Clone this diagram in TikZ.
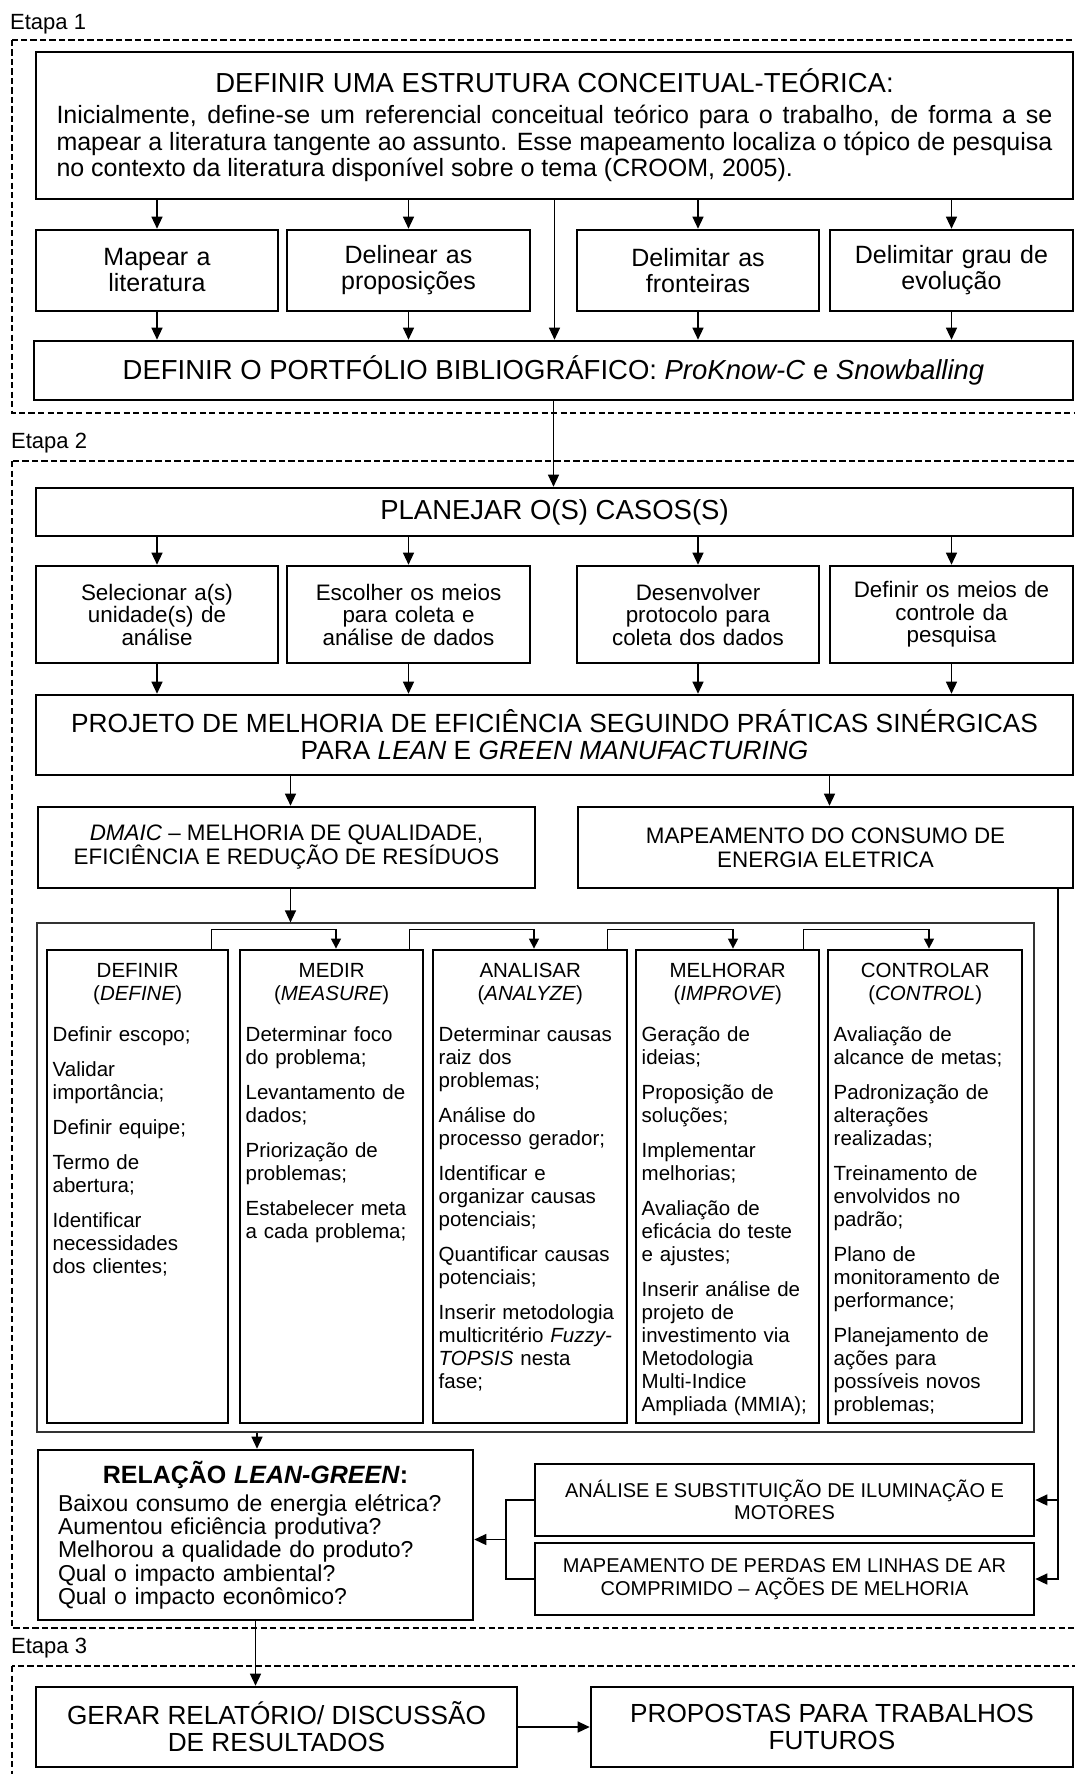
\documentclass[tikz,border=0pt]{standalone}
\usepackage{fontspec}
\setmainfont{Liberation Sans}
\usetikzlibrary{arrows.meta,calc}
\newcommand{\fs}[2]{\fontsize{#1}{#2}\selectfont}
\hyphenpenalty=10000
\exhyphenpenalty=10000

\begin{document}
\begin{tikzpicture}[x=1pt,y=-1pt,
  box/.style={draw=black, line width=2.6pt, rectangle, inner sep=0pt, align=center},
  col/.style={draw=black, line width=2.8pt, rectangle, inner sep=0pt},
  coltext/.style={anchor=base west, inner sep=0pt, align=left, font=\fs{20.5}{23}},
  conn/.style={draw=black, line width=1.3pt},
  arr/.style={conn, -{Triangle[length=12pt,width=11pt]}},
  sarr/.style={conn, -{Triangle[length=10pt,width=10pt]}},
  stage/.style={draw=black, line width=2pt, dash pattern=on 6.3pt off 3.2pt},
  lab/.style={anchor=west, inner sep=0pt, font=\fs{22}{24}},
]
\useasboundingbox (0,0) rectangle (1075,1774);
\clip (0,0) rectangle (1075,1774);

% ---------- stage frames and labels ----------
\draw[stage] (12,40) rectangle (1100,413);
\draw[stage] (12,461) rectangle (1100,1628);
\draw[stage] (12,1666) rectangle (1100,1800);
\node[lab] (e1) at (10,24) {Etapa 1};
\node[lab] (e2) at (11,443) {Etapa 2};
\node[lab] (e3) at (11,1648) {Etapa 3};

% ---------- Etapa 1 ----------
\node[box, minimum width=1037pt, minimum height=147pt, text width=996pt,
      align=justify, font=\fs{25}{26.7}] (T) at (554.5,125.5)
  {{\centering\fs{27.5}{30}DEFINIR UMA ESTRUTURA CONCEITUAL-TEÓRICA:\par}\vspace{3.8pt}%
   Inicialmente, define-se um referencial conceitual teórico para o trabalho, de forma a se\linebreak
   mapear a literatura tangente ao assunto. Esse mapeamento localiza o tópico de pesquisa\linebreak
   no contexto da literatura disponível sobre o tema (CROOM, 2005).};

\tikzset{rowone/.style={box, minimum height=81pt, text width=230pt, font=\fs{25}{26}}}
\node[rowone, minimum width=242pt] (r1a) at (157,270.5) {Mapear a\\literatura};
\node[rowone, minimum width=243pt] (r1b) at (408.5,270.5) {Delinear as\\proposições};
\node[rowone, minimum width=242pt] (r1c) at (698,270.5) {Delimitar as\\fronteiras};
\node[rowone, minimum width=243pt] (r1d) at (951.5,270.5) {Delimitar grau de\\evolução};

\node[box, minimum width=1039pt, minimum height=59pt, font=\fs{27.5}{30}] (P) at (553.5,370.5)
  {DEFINIR O PORTFÓLIO BIBLIOGRÁFICO: \textit{ProKnow-C} e \textit{Snowballing}};

\foreach \n in {r1a,r1b,r1c,r1d}{
  \draw[arr] (T.south -| \n.north) -- (\n.north);
  \draw[arr] (\n.south) -- (\n.south |- P.north);
}
\draw[arr] (T.south) -- (T.south |- P.north);

% ---------- Etapa 2 ----------
\node[box, minimum width=1037pt, minimum height=48pt, font=\fs{27.5}{30}] (PL) at (554.5,512)
  {PLANEJAR O(S) CASOS(S)};
\draw[arr] (P.south) -- (P.south |- PL.north);

\tikzset{rowtwo/.style={box, minimum height=97pt, text width=230pt, font=\fs{22.4}{22.5}}}
\node[rowtwo, minimum width=242pt] (r2a) at (157,614.5) {Selecionar a(s)\\unidade(s) de\\análise};
\node[rowtwo, minimum width=243pt] (r2b) at (408.5,614.5) {Escolher os meios\\para coleta e\\análise de dados};
\node[rowtwo, minimum width=242pt] (r2c) at (698,614.5) {Desenvolver\\protocolo para\\coleta dos dados};
\node[rowtwo, minimum width=243pt] (r2d) at (951.5,614.5) {Definir os meios de\\controle da\\pesquisa};

\node[box, minimum width=1037pt, minimum height=80pt, font=\fs{26.3}{27}] (PJ) at (554.5,735)
  {PROJETO DE MELHORIA DE EFICIÊNCIA SEGUINDO PRÁTICAS SINÉRGICAS\\
   PARA \textit{LEAN} E \textit{GREEN MANUFACTURING}};

\foreach \n in {r2a,r2b,r2c,r2d}{
  \draw[arr] (PL.south -| \n.north) -- (\n.north);
  \draw[arr] (\n.south) -- (\n.south |- PJ.north);
}

\node[box, minimum width=497pt, minimum height=81pt, font=\fs{22.4}{24}] (DM) at (286.5,847.5)
  {\textit{DMAIC} – MELHORIA DE QUALIDADE,\\EFICIÊNCIA E REDUÇÃO DE RESÍDUOS};
\node[box, minimum width=495pt, minimum height=81pt, font=\fs{22.4}{24}] (MC) at (825.5,847.5)
  {MAPEAMENTO DO CONSUMO DE\\ENERGIA ELETRICA};
\draw[arr] ($(PJ.south -| DM.north)+(4,0)$) -- ($(DM.north)+(4,0)$);
\draw[arr] ($(PJ.south -| MC.north)+(4,0)$) -- ($(MC.north)+(4,0)$);

% DMAIC phases
\node[draw=black!80, line width=1.2pt, rectangle, inner sep=0pt,
      minimum width=997pt, minimum height=509pt] (IF) at (535.5,1177.5) {};
\draw[arr] ($(DM.south)+(4,0)$) -- ($(DM.south |- IF.north)+(4,0)$);

\node[col, minimum width=181pt, minimum height=473pt] (c1) at (137.5,1186.5) {};
\node[col, minimum width=183pt, minimum height=473pt] (c2) at (331.5,1186.5) {};
\node[col, minimum width=194pt, minimum height=473pt] (c3) at (530,1186.5) {};
\node[col, minimum width=183pt, minimum height=473pt] (c4) at (727.5,1186.5) {};
\node[col, minimum width=194pt, minimum height=473pt] (c5) at (925,1186.5) {};

\node[coltext, text width=170pt] (t1) at (52.5,977)
  {{\centering DEFINIR\\(\textit{DEFINE})\par}\vspace{18pt}%
   Definir escopo;\\[12pt]Validar\\importância;\\[12pt]Definir equipe;\\[12pt]%
   Termo de\\abertura;\\[12pt]Identificar\\necessidades\\dos clientes;};
\node[coltext, text width=172pt] (t2) at (245.5,977)
  {{\centering MEDIR\\(\textit{MEASURE})\par}\vspace{18pt}%
   Determinar foco\\do problema;\\[12pt]Levantamento de\\dados;\\[12pt]%
   Priorização de\\problemas;\\[12pt]Estabelecer meta\\a cada problema;};
\node[coltext, text width=183pt] (t3) at (438.5,977)
  {{\centering ANALISAR\\(\textit{ANALYZE})\par}\vspace{18pt}%
   Determinar causas\\raiz dos\\problemas;\\[12pt]Análise do\\processo gerador;\\[12pt]%
   Identificar e\\organizar causas\\potenciais;\\[12pt]Quantificar causas\\potenciais;\\[12pt]%
   Inserir metodologia\\multicritério \textit{Fuzzy-}\\\textit{TOPSIS} nesta\\fase;};
\node[coltext, text width=172pt] (t4) at (641.5,977)
  {{\centering MELHORAR\\(\textit{IMPROVE})\par}\vspace{18pt}%
   Geração de\\ideias;\\[12pt]Proposição de\\soluções;\\[12pt]Implementar\\melhorias;\\[12pt]%
   Avaliação de\\eficácia do teste\\e ajustes;\\[12pt]Inserir análise de\\projeto de\\%
   investimento via\\Metodologia\\Multi-Indice\\Ampliada (MMIA);};
\node[coltext, text width=183pt] (t5) at (833.5,977)
  {{\centering CONTROLAR\\(\textit{CONTROL})\par}\vspace{18pt}%
   Avaliação de\\alcance de metas;\\[12pt]Padronização de\\alterações\\realizadas;\\[12pt]%
   Treinamento de\\envolvidos no\\padrão;\\[12pt]Plano de\\monitoramento de\\performance;\\[12pt]%
   Planejamento de\\ações para\\possíveis novos\\problemas;};

% links between consecutive phases
\draw[sarr] ($(c1.north east)+(-18,0)$) -- ++(0,-19) -| ($(c2.north)+(4.5,0)$);
\draw[sarr] ($(c2.north east)+(-15,0)$) -- ++(0,-19) -| ($(c3.north)+(4,0)$);
\draw[sarr] ($(c3.north east)+(-21,0)$) -- ++(0,-19) -| ($(c4.north)+(5.5,0)$);
\draw[sarr] ($(c4.north east)+(-17,0)$) -- ++(0,-19) -| ($(c5.north)+(4,0)$);

% Lean-Green relation
\node[box, minimum width=435pt, minimum height=170pt, text width=395pt, align=left,
      font=\fs{23}{23.3}] (R) at (255.5,1535)
  {{\centering\fs{25}{27}\bfseries RELAÇÃO \textit{LEAN-GREEN}:\par}\vspace{5pt}%
   Baixou consumo de energia elétrica?\\Aumentou eficiência produtiva?\\
   Melhorou a qualidade do produto?\\Qual o impacto ambiental?\\Qual o impacto econômico?};
\draw[arr] ($(IF.south -| R.north)+(1.5,0)$) -- ($(R.north)+(1.5,0)$);

\node[box, minimum width=499pt, minimum height=72pt, font=\fs{20}{22.5}] (A) at (784.5,1500)
  {ANÁLISE E SUBSTITUIÇÃO DE ILUMINAÇÃO E\\MOTORES};
\node[box, minimum width=499pt, minimum height=72pt, font=\fs{20}{22.5}] (MP) at (784.5,1579)
  {MAPEAMENTO DE PERDAS EM LINHAS DE AR\\COMPRIMIDO – AÇÕES DE MELHORIA};

% right feed from the energy mapping
\coordinate (rx) at (1058,0);
\draw[arr] (MC.south -| rx) |- (MP.east);
\draw[arr] (A.east -| rx) -- (A.east);

% left collector into the relation box
\coordinate (lx) at (506,0);
\draw[conn] (A.west) -| (lx |- MP.west) -- (MP.west);
\coordinate (lm) at ($(A.west -| lx)!0.5!(MP.west -| lx)$);
\draw[arr] (lm) -- (lm -| R.east);

% ---------- Etapa 3 ----------
\node[box, minimum width=481pt, minimum height=80pt, font=\fs{26.2}{27}] (G) at (276.5,1727)
  {GERAR RELATÓRIO/ DISCUSSÃO\\DE RESULTADOS};
\node[box, minimum width=482pt, minimum height=80pt, font=\fs{26.2}{27}] (PR) at (832,1727)
  {PROPOSTAS PARA TRABALHOS\\FUTUROS};
\draw[arr] (R.south) -- (R.south |- G.north);
\draw[arr] (G.east) -- (G.east -| PR.west);
\end{tikzpicture}
\end{document}
